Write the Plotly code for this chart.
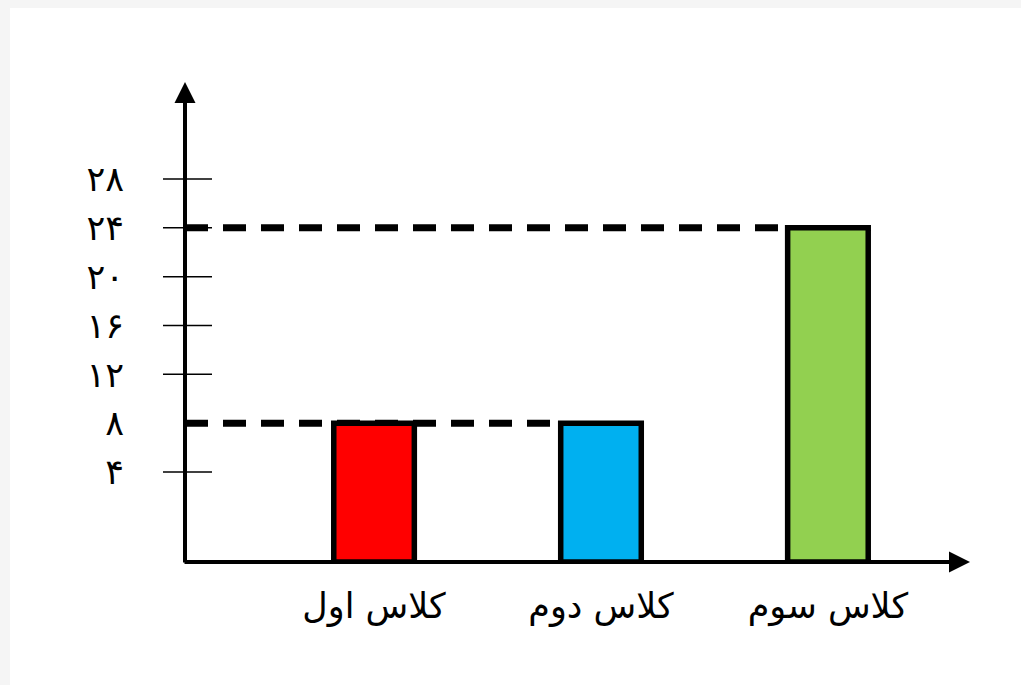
import plotly.graph_objects as go

# ---- data ----
categories = ['کلاس اول', 'کلاس دوم', 'کلاس سوم']
values = [8, 8, 24]
bar_colors = ['#ff0000', '#00b0f0', '#92d050']
tick_values = [4, 8, 12, 16, 20, 24, 28]
tick_labels = ['۴', '۸', '۱۲', '۱۶', '۲۰', '۲۴', '۲۸']
tick_marks = [4, 12, 16, 20, 24, 28]

# ---- layout constants ----
W, H = 1021, 685
L, R, T, B = 185, 970, 82, 562
y_range = [-3.37, 35.94]
x_range = [-0.833, 2.626]
bar_w = 0.355
font_family = 'DejaVu Sans'

fig = go.Figure()
fig.add_trace(go.Bar(
    x=categories,
    y=[v - y_range[0] for v in values],
    base=y_range[0],
    width=bar_w,
    marker=dict(color=bar_colors, line=dict(color='black', width=5.5)),
    hoverinfo='skip',
))

shapes = []
# page background with grey border
pw, ph = R - L, B - T
shapes.append(dict(type='rect', xref='paper', yref='paper',
                   x0=(10 - L) / pw, x1=(W + 5 - L) / pw,
                   y0=(B - (H + 5)) / ph, y1=(B - 8) / ph,
                   fillcolor='white', line=dict(width=0), layer='below'))

# dashed guide lines from the y axis to the last bar with that value
for v in sorted(set(values)):
    idx = max(i for i, val in enumerate(values) if val == v)
    shapes.append(dict(type='line', xref='x', yref='y',
                       x0=x_range[0], x1=idx - bar_w / 2, y0=v, y1=v,
                       line=dict(color='black', width=7, dash='23px,15px'),
                       layer='below'))

# tick marks crossing the y axis
for t in tick_marks:
    shapes.append(dict(type='line', xref='paper', yref='y',
                       xsizemode='pixel', xanchor=0, x0=-22, x1=27,
                       y0=t, y1=t, line=dict(color='black', width=1.5)))

annotations = [
    # y axis with arrow
    dict(x=0, y=1, xref='paper', yref='paper', ax=0, ay=ph + 2,
         axref='pixel', ayref='pixel', text='', showarrow=True,
         arrowhead=2, arrowsize=1.05, arrowwidth=4, arrowcolor='black',
         standoff=0, startstandoff=0),
    # x axis with arrow
    dict(x=1, y=0, xref='paper', yref='paper', ax=-(pw + 2), ay=0,
         axref='pixel', ayref='pixel', text='', showarrow=True,
         arrowhead=2, arrowsize=1.05, arrowwidth=4, arrowcolor='black',
         standoff=0, startstandoff=0),
]

fig.update_layout(
    width=W, height=H,
    margin=dict(l=L, r=W - R, t=T, b=H - B, pad=0),
    paper_bgcolor='#f5f5f5',
    plot_bgcolor='white',
    showlegend=False,
    shapes=shapes,
    annotations=annotations,
    font=dict(family=font_family, color='black'),
    xaxis=dict(type='category', range=x_range, showgrid=False, zeroline=False,
               showline=False, ticks='', tickfont=dict(size=35, family=font_family, color='black'),
               ticklabelstandoff=20, fixedrange=True),
    yaxis=dict(range=y_range, showgrid=False, zeroline=False, showline=False,
               tickmode='array', tickvals=tick_values, ticktext=tick_labels,
               ticks='', tickfont=dict(size=35, family=font_family, color='black'),
               ticklabelstandoff=60, fixedrange=True),
)

fig.write_html('out.html', config={'displayModeBar': False},
               post_script="document.body.style.margin='0';document.body.style.background='#f5f5f5';")
